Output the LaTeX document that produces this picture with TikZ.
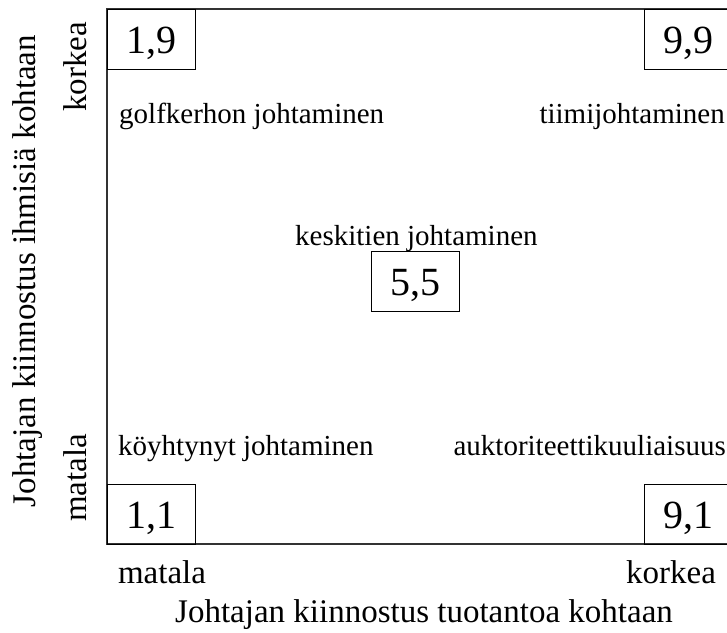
\documentclass[tikz,border=0pt]{standalone}
\usepackage{fontspec}
\setmainfont{Liberation Serif}
\begin{document}
\begin{tikzpicture}[x=1pt,y=-1pt,
  numbox/.style={draw=black,line width=1pt,minimum width=88pt,minimum height=60pt,inner sep=0pt,
    font=\fontsize{40}{48}\selectfont,text height=28pt,text depth=0pt},
  lbl/.style={inner sep=0pt,font=\fontsize{29}{34}\selectfont},
  axlbl/.style={inner sep=0pt,font=\fontsize{33}{40}\selectfont},
  frame/.style={draw=black!80,line width=1.2pt}]
\useasboundingbox (0,0) rectangle (727,632);
% frame
\coordinate (tr) at (730,9);
\coordinate (tl) at (107,9);
\coordinate (bl) at (107,544);
\coordinate (br) at (730,544);
\draw[frame] (tr) -- (tl) -- (bl) -- (br);
% number boxes
\node[numbox] (n19) at (151,39) {1,9};
\node[numbox] (n99) at (688,39) {9,9};
\node[numbox] (n55) at (415,281) {5,5};
\node[numbox] (n11) at (151,514) {1,1};
\node[numbox] (n91) at (688,514) {9,1};
% style labels
\node[lbl,anchor=base west] (golf) at (119,123) {golfkerhon johtaminen};
\node[lbl,anchor=base east] (tiimi) at (725,123) {tiimijohtaminen};
\node[lbl,anchor=base west] (kesk) at (295,245) {keskitien johtaminen};
\node[lbl,anchor=base west] (koyh) at (118,455) {köyhtynyt johtaminen};
\node[lbl,anchor=base east] (aukt) at (726,455) {auktoriteettikuuliaisuus};
% axis labels
\node[axlbl,anchor=base] (xlo) at (162,583) {matala};
\node[axlbl,anchor=base] (xhi) at (671,583) {korkea};
\node[axlbl,anchor=base] (xlab) at (424,622) {Johtajan kiinnostus tuotantoa kohtaan};
\node[axlbl,anchor=base,rotate=90] (yhi) at (86,67) {korkea};
\node[axlbl,anchor=base,rotate=90] (ylo) at (86,478) {matala};
\node[axlbl,anchor=base,rotate=90] (ylab) at (35,271) {Johtajan kiinnostus ihmisiä kohtaan};
\end{tikzpicture}
\end{document}
